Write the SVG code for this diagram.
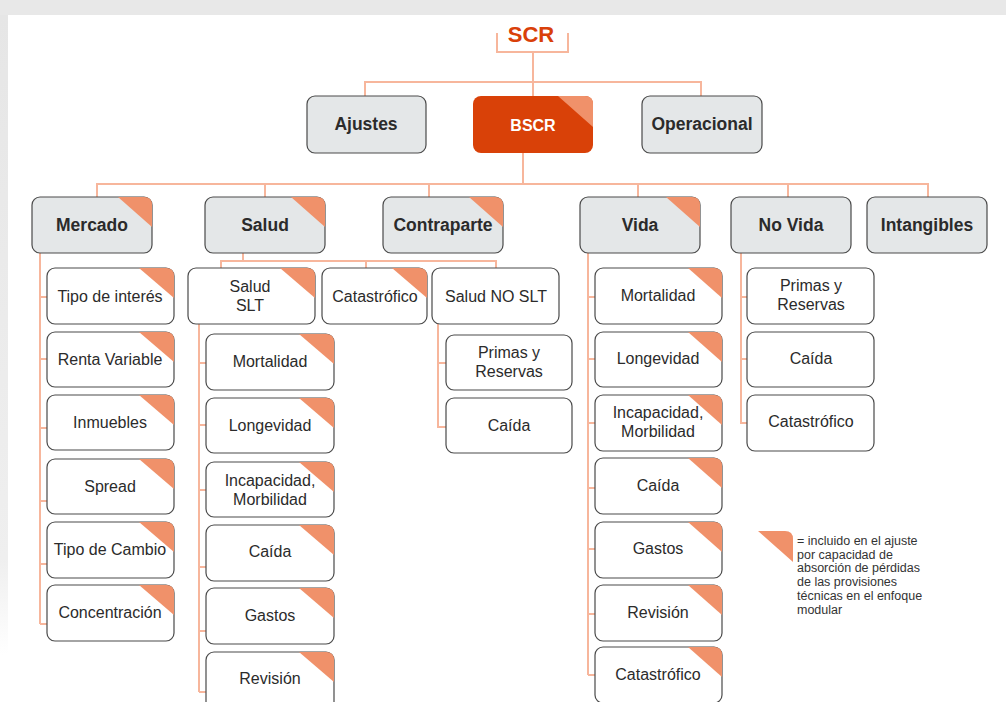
<svg xmlns="http://www.w3.org/2000/svg" width="1006" height="702" viewBox="0 0 1006 702">
<defs>
<linearGradient id="lg" x1="0" y1="0" x2="0" y2="1">
<stop offset="0" stop-color="#e6e6e6"/>
<stop offset="0.85" stop-color="#efefef"/>
<stop offset="1" stop-color="#ffffff"/>
</linearGradient>
</defs>
<style>
.l1{fill:#e4e7e8;stroke:#4a4a4a;stroke-width:1.2}
.bx{fill:#ffffff;stroke:#4a4a4a;stroke-width:1.2}
.or{fill:#d94108;stroke:none}
.tri{fill:#f0916a}
.con{fill:none;stroke:#f7b69c;stroke-width:2}
.tb{font-family:"Liberation Sans",Arial,sans-serif;font-weight:bold;font-size:17.5px;fill:#2b2b2b;text-anchor:middle}
.t{font-family:"Liberation Sans",Arial,sans-serif;font-size:16px;fill:#2b2b2b;text-anchor:middle}
.lg{font-family:"Liberation Sans",Arial,sans-serif;font-size:12.5px;fill:#333333}
</style>
<rect width="1006" height="702" fill="#ffffff"/>
<rect x="0" y="0" width="1006" height="15" fill="#e8e8e8"/>
<rect x="0" y="15" width="8" height="640" fill="url(#lg)"/>

<g id="connectors" class="con">
<path d="M497,33 V52 H568 V33"/>
<path d="M533,52 V96"/>
<path d="M365,96 V82 H701 V96"/>
<path d="M523,153 V184"/>
<path d="M97,197 V184 H928 V197"/>
<path d="M265,184 V197 M429,184 V197 M638,184 V197 M788,184 V197"/>
<path d="M40,253 V624 M40,297 H47 M40,359 H47 M40,428 H47 M40,501 H47 M40,564 H47 M40,624 H47"/>
<path d="M243,253 V261 M221,268 V261 H496 V268 M366,261 V268"/>
<path d="M199,324 V692 M199,363 H206 M199,425 H206 M199,490 H206 M199,567 H206 M199,631 H206 M199,692 H206"/>
<path d="M438,324 V427 H446 M438,363 H446"/>
<path d="M588,253 V675 M588,297 H595 M588,359 H595 M588,423 H595 M588,488 H595 M588,549 H595 M588,614 H595 M588,675 H595"/>
<path d="M741,253 V423 H747 M741,297 H747 M741,359 H747"/>
</g>

<text x="531" y="42" font-family="Liberation Sans,Arial,sans-serif" font-weight="bold" font-size="22" fill="#d9400a" text-anchor="middle">SCR</text>

<g id="ajustes"><rect class="l1" x="307" y="96" width="119" height="57" rx="8"/><text class="tb" x="366" y="130">Ajustes</text></g>
<g id="bscr"><rect class="or" x="473" y="96" width="120" height="57" rx="8"/><path class="tri" d="M558,96 H585 Q593,96 593,104 V127 Z"/><text class="tb" x="533" y="131" fill="#ffffff" style="fill:#ffffff;font-size:16px">BSCR</text></g>
<g id="operacional"><rect class="l1" x="642" y="96" width="120" height="57" rx="8"/><text class="tb" x="702" y="130">Operacional</text></g>

<g id="mercado"><rect class="l1" x="32" y="197" width="120" height="56" rx="8"/><path class="tri" d="M118,197 H144 Q152,197 152,205 V227 Z"/><text class="tb" x="92" y="231">Mercado</text></g>
<g id="salud"><rect class="l1" x="205" y="197" width="120" height="56" rx="8"/><path class="tri" d="M291,197 H317 Q325,197 325,205 V227 Z"/><text class="tb" x="265" y="231">Salud</text></g>
<g id="contraparte"><rect class="l1" x="383" y="197" width="120" height="56" rx="8"/><path class="tri" d="M469,197 H495 Q503,197 503,205 V227 Z"/><text class="tb" x="443" y="231">Contraparte</text></g>
<g id="vida"><rect class="l1" x="580" y="197" width="120" height="56" rx="8"/><path class="tri" d="M666,197 H692 Q700,197 700,205 V227 Z"/><text class="tb" x="640" y="231">Vida</text></g>
<g id="novida"><rect class="l1" x="731" y="197" width="120" height="56" rx="8"/><text class="tb" x="791" y="231">No Vida</text></g>
<g id="intangibles"><rect class="l1" x="867" y="197" width="120" height="56" rx="8"/><text class="tb" x="927" y="231">Intangibles</text></g>

<g id="m-tipo"><rect class="bx" x="47" y="268" width="127" height="56" rx="8"/><path class="tri" d="M139,268 H166 Q174,268 174,276 V298 Z"/><text class="t" x="110" y="302">Tipo de interés</text></g>
<g id="m-renta"><rect class="bx" x="47" y="332" width="127" height="55" rx="8"/><path class="tri" d="M139,332 H166 Q174,332 174,340 V362 Z"/><text class="t" x="110" y="365">Renta Variable</text></g>
<g id="m-inmuebles"><rect class="bx" x="47" y="395" width="127" height="55" rx="8"/><path class="tri" d="M139,395 H166 Q174,395 174,403 V425 Z"/><text class="t" x="110" y="428">Inmuebles</text></g>
<g id="m-spread"><rect class="bx" x="47" y="459" width="127" height="55" rx="8"/><path class="tri" d="M139,459 H166 Q174,459 174,467 V489 Z"/><text class="t" x="110" y="492">Spread</text></g>
<g id="m-cambio"><rect class="bx" x="47" y="522" width="127" height="56" rx="8"/><path class="tri" d="M139,522 H166 Q174,522 174,530 V552 Z"/><text class="t" x="110" y="555">Tipo de Cambio</text></g>
<g id="m-conc"><rect class="bx" x="47" y="585" width="127" height="56" rx="8"/><path class="tri" d="M139,585 H166 Q174,585 174,593 V615 Z"/><text class="t" x="110" y="618">Concentración</text></g>

<g id="s-slt"><rect class="bx" x="188" y="268" width="127" height="56" rx="8"/><path class="tri" d="M280,268 H307 Q315,268 315,276 V298 Z"/><text class="t" x="250" y="292">Salud</text><text class="t" x="250" y="311">SLT</text></g>
<g id="s-cat"><rect class="bx" x="322" y="268" width="105" height="56" rx="8"/><path class="tri" d="M392,268 H419 Q427,268 427,276 V298 Z"/><text class="t" x="375" y="302">Catastrófico</text></g>
<g id="s-noslt"><rect class="bx" x="432" y="268" width="127" height="56" rx="8"/><text class="t" x="496" y="302">Salud NO SLT</text></g>

<g id="slt-mort"><rect class="bx" x="206" y="334" width="128" height="56" rx="8"/><path class="tri" d="M299,334 H326 Q334,334 334,342 V364 Z"/><text class="t" x="270" y="367">Mortalidad</text></g>
<g id="slt-long"><rect class="bx" x="206" y="398" width="128" height="55" rx="8"/><path class="tri" d="M299,398 H326 Q334,398 334,406 V428 Z"/><text class="t" x="270" y="431">Longevidad</text></g>
<g id="slt-incap"><rect class="bx" x="206" y="462" width="128" height="55" rx="8"/><path class="tri" d="M299,462 H326 Q334,462 334,470 V492 Z"/><text class="t" x="270" y="486">Incapacidad,</text><text class="t" x="270" y="505">Morbilidad</text></g>
<g id="slt-caida"><rect class="bx" x="206" y="525" width="128" height="56" rx="8"/><path class="tri" d="M299,525 H326 Q334,525 334,533 V555 Z"/><text class="t" x="270" y="557">Caída</text></g>
<g id="slt-gastos"><rect class="bx" x="206" y="588" width="128" height="56" rx="8"/><path class="tri" d="M299,588 H326 Q334,588 334,596 V618 Z"/><text class="t" x="270" y="621">Gastos</text></g>
<g id="slt-rev"><rect class="bx" x="206" y="652" width="128" height="60" rx="8"/><path class="tri" d="M299,652 H326 Q334,652 334,660 V682 Z"/><text class="t" x="270" y="684">Revisión</text></g>

<g id="noslt-primas"><rect class="bx" x="446" y="335" width="126" height="55" rx="8"/><text class="t" x="509" y="358">Primas y</text><text class="t" x="509" y="377">Reservas</text></g>
<g id="noslt-caida"><rect class="bx" x="446" y="398" width="126" height="55" rx="8"/><text class="t" x="509" y="431">Caída</text></g>

<g id="v-mort"><rect class="bx" x="595" y="268" width="127" height="56" rx="8"/><path class="tri" d="M688,268 H714 Q722,268 722,276 V298 Z"/><text class="t" x="658" y="301">Mortalidad</text></g>
<g id="v-long"><rect class="bx" x="595" y="332" width="127" height="55" rx="8"/><path class="tri" d="M688,332 H714 Q722,332 722,340 V362 Z"/><text class="t" x="658" y="364">Longevidad</text></g>
<g id="v-incap"><rect class="bx" x="595" y="395" width="127" height="56" rx="8"/><path class="tri" d="M688,395 H714 Q722,395 722,403 V425 Z"/><text class="t" x="658" y="418">Incapacidad,</text><text class="t" x="658" y="437">Morbilidad</text></g>
<g id="v-caida"><rect class="bx" x="595" y="458" width="127" height="56" rx="8"/><path class="tri" d="M688,458 H714 Q722,458 722,466 V488 Z"/><text class="t" x="658" y="491">Caída</text></g>
<g id="v-gastos"><rect class="bx" x="595" y="522" width="127" height="56" rx="8"/><path class="tri" d="M688,522 H714 Q722,522 722,530 V552 Z"/><text class="t" x="658" y="554">Gastos</text></g>
<g id="v-rev"><rect class="bx" x="595" y="585" width="127" height="56" rx="8"/><path class="tri" d="M688,585 H714 Q722,585 722,593 V615 Z"/><text class="t" x="658" y="618">Revisión</text></g>
<g id="v-cat"><rect class="bx" x="595" y="647" width="127" height="56" rx="8"/><path class="tri" d="M688,647 H714 Q722,647 722,655 V677 Z"/><text class="t" x="658" y="680">Catastrófico</text></g>

<g id="nv-primas"><rect class="bx" x="747" y="268" width="127" height="56" rx="8"/><text class="t" x="811" y="291">Primas y</text><text class="t" x="811" y="310">Reservas</text></g>
<g id="nv-caida"><rect class="bx" x="747" y="332" width="127" height="55" rx="8"/><text class="t" x="811" y="364">Caída</text></g>
<g id="nv-cat"><rect class="bx" x="747" y="395" width="127" height="56" rx="8"/><text class="t" x="811" y="427">Catastrófico</text></g>

<g id="legend">
<path class="tri" d="M758,531 H785 Q793,531 793,539 V562 Z"/>
<text class="lg" x="797" y="545">= incluido en el ajuste</text>
<text class="lg" x="797" y="558.5">por capacidad de</text>
<text class="lg" x="797" y="572">absorción de pérdidas</text>
<text class="lg" x="797" y="586">de las provisiones</text>
<text class="lg" x="797" y="600">técnicas en el enfoque</text>
<text class="lg" x="797" y="613.5">modular</text>
</g>
</svg>
